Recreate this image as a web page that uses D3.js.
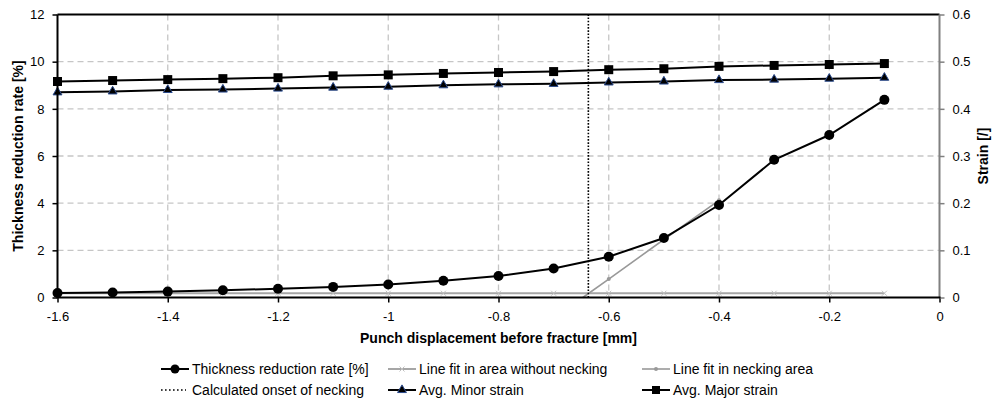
<!DOCTYPE html>
<html><head><meta charset="utf-8">
<script src="https://cdn.jsdelivr.net/npm/d3@7"></script>
<style>
html,body{margin:0;padding:0;background:#fff;}
svg{display:block;font-family:"Liberation Sans",Arial,sans-serif;}
</style></head>
<body>
<svg id="chart" width="994" height="403"></svg>
<script>
// ---- data ----
const displacement = [-1.6,-1.5,-1.4,-1.3,-1.2,-1.1,-1.0,-0.9,-0.8,-0.7,-0.6,-0.5,-0.4,-0.3,-0.2,-0.1];
const thicknessReduction = [0.19,0.21,0.25,0.31,0.37,0.45,0.55,0.71,0.91,1.23,1.73,2.52,3.92,5.84,6.89,8.38];
const fitNoNecking = [0.18,0.18,0.18,0.18,0.18,0.18,0.18,0.18,0.18,0.18,0.18,0.18,0.18,0.18,0.18,0.18];
const fitNeckingX = [-0.647,-0.6,-0.5,-0.4];
const fitNeckingY = [0,0.78,2.46,4.12];
const onsetOfNecking = -0.637;
const minorStrain = [0.435,0.437,0.440,0.441,0.443,0.445,0.447,0.450,0.452,0.453,0.456,0.458,0.461,0.462,0.464,0.466];
const majorStrain = [0.458,0.460,0.462,0.464,0.466,0.470,0.472,0.475,0.477,0.479,0.483,0.485,0.490,0.492,0.494,0.496];
const xTicks = [-1.6,-1.4,-1.2,-1,-0.8,-0.6,-0.4,-0.2,0];
const leftTicks = [0,2,4,6,8,10,12];
const rightTicks = [0,0.1,0.2,0.3,0.4,0.5,0.6];
const legendLabels = ["Thickness reduction rate [%]","Line fit in area without necking","Line fit in necking area",
  "Calculated onset of necking","Avg. Minor strain","Avg. Major strain"];

// ---- layout ----
const L = 57.5, R = 939.5, T = 14.5, B = 297.5;
const svg = d3.select("#chart");
const x = d3.scaleLinear().domain([-1.6,0]).range([L,R]);
const yL = d3.scaleLinear().domain([0,12]).range([B,T]);
const yR = d3.scaleLinear().domain([0,0.6]).range([B,T]);
const fmt = d => String(+(+d).toFixed(1));

// grid
const grid = svg.append("g").attr("stroke","#c6c6c6").attr("stroke-width",1.3).attr("stroke-dasharray","6,4");
xTicks.filter(t => t>-1.6 && t<0).forEach(t => grid.append("line").attr("x1",x(t)).attr("x2",x(t)).attr("y1",T).attr("y2",B));
leftTicks.filter(t => t>0 && t<12).forEach(t => grid.append("line").attr("x1",L).attr("x2",R).attr("y1",yL(t)).attr("y2",yL(t)));

// axes
const xAxis = svg.append("g").attr("transform",`translate(0,${B})`)
  .call(d3.axisBottom(x).tickValues(xTicks).tickFormat(fmt).tickSizeInner(5).tickSizeOuter(0).tickPadding(9));
const yAxisL = svg.append("g").attr("transform",`translate(${L},0)`)
  .call(d3.axisLeft(yL).tickValues(leftTicks).tickFormat(fmt).tickSizeInner(5).tickSizeOuter(0).tickPadding(8));
const yAxisR = svg.append("g").attr("transform",`translate(${R},0)`)
  .call(d3.axisRight(yR).tickValues(rightTicks).tickFormat(fmt).tickSizeInner(5).tickSizeOuter(0).tickPadding(8));
[xAxis,yAxisL,yAxisR].forEach(g => {
  g.selectAll("text").attr("font-size",13).attr("fill","#000").attr("font-family","Liberation Sans, Arial, sans-serif");
  g.select(".domain").remove();
});
xAxis.selectAll(".tick line").attr("stroke","#000").attr("stroke-width",1.5);
yAxisL.selectAll(".tick line").attr("stroke","#000").attr("stroke-width",1.5);
yAxisR.selectAll(".tick line").attr("stroke","#808080").attr("stroke-width",1.5);
xAxis.selectAll("text").attr("dy","0.71em");

// series: line fits
const lineL = d3.line().x(d=>x(d[0])).y(d=>yL(d[1]));
const lineR = d3.line().x(d=>x(d[0])).y(d=>yR(d[1]));
const noNeck = displacement.map((d,i)=>[d,fitNoNecking[i]]);
svg.append("path").attr("d",lineL(noNeck)).attr("fill","none").attr("stroke","#a6a6a6").attr("stroke-width",2);
const xMark = (g,cx,cy,s,c) => g.append("path").attr("d",`M${cx-s},${cy-s}L${cx+s},${cy+s}M${cx-s},${cy+s}L${cx+s},${cy-s}`).attr("stroke",c).attr("stroke-width",1);
noNeck.forEach(d => xMark(svg,x(d[0]),yL(d[1]),2.5,"#c0c0c0"));

const neck = fitNeckingX.map((d,i)=>[d,fitNeckingY[i]]);
svg.append("path").attr("d",lineL(neck)).attr("fill","none").attr("stroke","#999").attr("stroke-width",1.6);
neck.slice(1).forEach(d => svg.append("circle").attr("cx",x(d[0])).attr("cy",yL(d[1])).attr("r",2).attr("fill","#999"));

// onset
svg.append("line").attr("x1",x(onsetOfNecking)).attr("x2",x(onsetOfNecking)).attr("y1",yL(0)).attr("y2",yL(12))
  .attr("stroke","#000").attr("stroke-width",1.6).attr("stroke-dasharray","1.6,1.6");

// thickness
const thick = displacement.map((d,i)=>[d,thicknessReduction[i]]);
svg.append("path").attr("d",lineL(thick)).attr("fill","none").attr("stroke","#000").attr("stroke-width",2);
thick.forEach(d => svg.append("circle").attr("cx",x(d[0])).attr("cy",yL(d[1])).attr("r",5).attr("fill","#000"));

// strains
const minor = displacement.map((d,i)=>[d,minorStrain[i]]);
const major = displacement.map((d,i)=>[d,majorStrain[i]]);
svg.append("path").attr("d",lineR(minor)).attr("fill","none").attr("stroke","#000").attr("stroke-width",2);
svg.append("path").attr("d",lineR(major)).attr("fill","none").attr("stroke","#000").attr("stroke-width",2);
const tri = d3.symbol().type(d3.symbolTriangle).size(34);
const sq = d3.symbol().type(d3.symbolSquare).size(81);
minor.forEach(d => svg.append("path").attr("d",tri()).attr("transform",`translate(${x(d[0])},${yR(d[1])})`)
  .attr("fill","#000").attr("stroke","#2a4a8c").attr("stroke-width",1));
major.forEach(d => svg.append("path").attr("d",sq()).attr("transform",`translate(${x(d[0])},${yR(d[1])})`).attr("fill","#000"));

// frame
svg.append("line").attr("x1",L).attr("x2",R).attr("y1",T).attr("y2",T).attr("stroke","#000").attr("stroke-width",2);
svg.append("line").attr("x1",L).attr("x2",L).attr("y1",T).attr("y2",B).attr("stroke","#000").attr("stroke-width",2);
svg.append("line").attr("x1",R).attr("x2",R).attr("y1",T).attr("y2",B).attr("stroke","#808080").attr("stroke-width",2);
svg.append("line").attr("x1",L-1).attr("x2",R+1).attr("y1",B).attr("y2",B).attr("stroke","#000").attr("stroke-width",2.2);

// axis titles
svg.append("text").attr("x",(L+R)/2).attr("y",343).attr("text-anchor","middle").attr("font-size",14).attr("font-weight","bold").text("Punch displacement before fracture [mm]");
svg.append("text").attr("transform",`translate(23,${(T+B)/2}) rotate(-90)`).attr("text-anchor","middle").attr("font-size",14).attr("font-weight","bold").text("Thickness reduction rate [%]");
svg.append("text").attr("transform",`translate(988,${(T+B)/2}) rotate(-90)`).attr("text-anchor","middle").attr("font-size",14).attr("font-weight","bold").text("Strain [/]");

// legend
const cols = [161,388,642], rows = [369,390];
const lg = svg.append("g");
legendLabels.forEach((lab,i) => {
  const cx0 = cols[i%3], cy = rows[Math.floor(i/3)], cx1 = cx0+28, mid = cx0+14;
  const g = lg.append("g");
  if (i===0){ g.append("line").attr("x1",cx0).attr("x2",cx1).attr("y1",cy).attr("y2",cy).attr("stroke","#000").attr("stroke-width",2);
    g.append("circle").attr("cx",mid).attr("cy",cy).attr("r",4.5).attr("fill","#000"); }
  if (i===1){ g.append("line").attr("x1",cx0).attr("x2",cx1).attr("y1",cy).attr("y2",cy).attr("stroke","#a6a6a6").attr("stroke-width",2);
    xMark(g,mid,cy,2.5,"#c0c0c0"); }
  if (i===2){ g.append("line").attr("x1",cx0).attr("x2",cx1).attr("y1",cy).attr("y2",cy).attr("stroke","#999").attr("stroke-width",1.6);
    g.append("circle").attr("cx",mid).attr("cy",cy).attr("r",2).attr("fill","#999"); }
  if (i===3){ g.append("line").attr("x1",cx0).attr("x2",cx0+25).attr("y1",cy).attr("y2",cy).attr("stroke","#000").attr("stroke-width",1.6).attr("stroke-dasharray","1.6,2.4"); }
  if (i===4){ g.append("line").attr("x1",cx0).attr("x2",cx1).attr("y1",cy).attr("y2",cy).attr("stroke","#000").attr("stroke-width",2);
    g.append("path").attr("d",tri()).attr("transform",`translate(${mid},${cy})`).attr("fill","#000").attr("stroke","#2a4a8c"); }
  if (i===5){ g.append("line").attr("x1",cx0).attr("x2",cx1).attr("y1",cy).attr("y2",cy).attr("stroke","#000").attr("stroke-width",2);
    g.append("path").attr("d",sq.size(64)()).attr("transform",`translate(${mid},${cy})`).attr("fill","#000"); }
  g.append("text").attr("x",cx1+3).attr("y",cy).attr("dy","0.35em").attr("font-size",14).text(lab);
});
</script>
</body></html>
